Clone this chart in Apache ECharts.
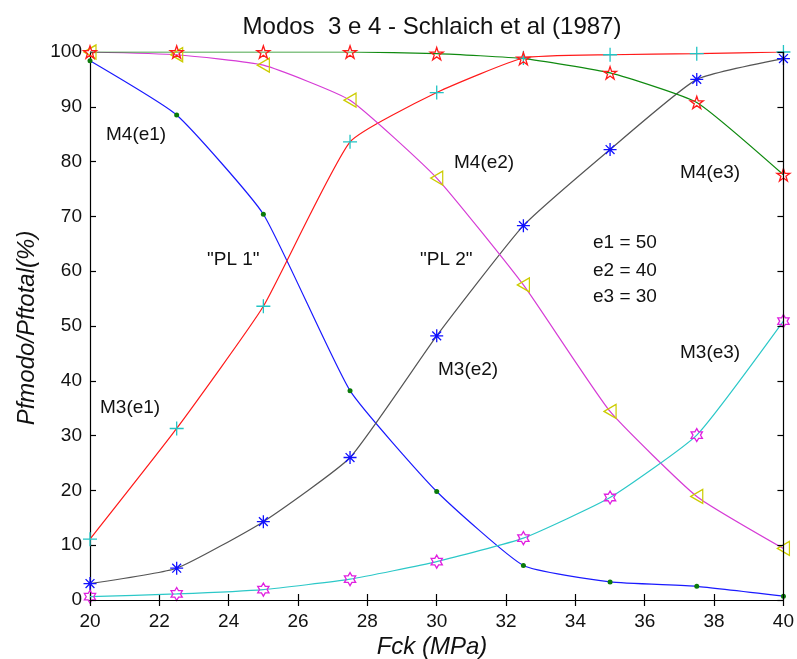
<!DOCTYPE html>
<html>
<head>
<meta charset="utf-8">
<script src="https://cdn.jsdelivr.net/npm/echarts@6/dist/echarts.min.js"></script>
<style>
  html, body { margin: 0; padding: 0; background: #fff; }
  #chart { width: 797px; height: 659px; }
</style>
</head>
<body>
<div id="chart"></div>
<script>
// Concrete strength steps (MPa)
const fck = [20, 22.5, 25, 27.5, 30, 32.5, 35, 37.5, 40];

// Share of each failure mode in the total failure probability (%)
const m4e1 = [98.4, 88.5, 70.4, 38.2, 19.8, 6.3, 3.3, 2.5, 0.7];
const m3e1 = [11.1, 31.3, 53.6, 83.6, 92.6, 98.9, 99.5, 99.7, 100];
const m3e2 = [3.0, 5.8, 14.3, 26.0, 48.2, 68.3, 82.2, 95.0, 98.8];
const m4e2 = [100, 99.5, 97.6, 91.2, 77.0, 57.5, 34.4, 18.9, 9.4];
const m3e3 = [0.6, 1.1, 1.9, 3.8, 7.0, 11.3, 18.7, 30.1, 50.9];
const m4e3 = [100, 100, 100, 100, 99.7, 98.8, 96.2, 90.8, 77.6];

const xTicks = [20, 22, 24, 26, 28, 30, 32, 34, 36, 38, 40];
const yTicks = [0, 10, 20, 30, 40, 50, 60, 70, 80, 90, 100];

const FONT = "'Liberation Sans', Arial, Helvetica, sans-serif";

// Marker shapes
const SYM_PLUS = 'path://M0,5L10,5M5,0L5,10';
const SYM_STAR = 'path://M0,5L10,5M5,0L5,10M1.6,1.6L8.4,8.4M1.6,8.4L8.4,1.6';
const SYM_TRI_LEFT = 'path://M0,5L10,0L10,10Z';
const SYM_PENTA = 'path://M5,0L6.12,3.45L9.76,3.45L6.82,5.59L7.94,9.05L5,6.91L2.06,9.05L3.18,5.59L0.24,3.45L3.88,3.45Z';
const SYM_HEXA = 'path://M5,0L6.44,2.5L9.33,2.5L7.89,5L9.33,7.5L6.44,7.5L5,10L3.56,7.5L0.67,7.5L2.11,5L0.67,2.5L3.56,2.5Z';

function pairs(ys) { return fck.map((x, i) => [x, ys[i]]); }

function curve(name, ys, lineColor, symbol, size, markColor, filled) {
  return {
    name: name,
    type: 'line',
    data: pairs(ys),
    smooth: 0.15,
    clip: true,
    showSymbol: true,
    symbol: symbol,
    symbolSize: size,
    symbolKeepAspect: true,
    lineStyle: { color: lineColor, width: 1.2 },
    itemStyle: filled
      ? { color: markColor, borderColor: markColor, borderWidth: 0 }
      : { color: 'none', borderColor: markColor, borderWidth: 1.3 },
    emphasis: { disabled: true },
    animation: false
  };
}

const chart = echarts.init(document.getElementById('chart'), null, { renderer: 'canvas' });

const axisLine = { show: true, lineStyle: { color: '#000', width: 1.2 } };
const tickIn = { show: true, inside: true, length: 6, lineStyle: { color: '#000', width: 1.2 } };

const textEl = (txt, x, y, size, extra) => ({
  type: 'text', x: x, y: y, z: 50,
  style: Object.assign({
    text: txt, fill: '#111', font: size + 'px ' + FONT,
    align: 'left', verticalAlign: 'middle'
  }, extra || {})
});

chart.setOption({
  backgroundColor: '#fff',
  animation: false,
  grid: { left: 90, right: 11, top: 52, bottom: 59, containLabel: false },
  xAxis: [
    {
      type: 'value', position: 'bottom', min: 20, max: 40, interval: 2,
      axisLine: axisLine, splitLine: { show: false },
      axisLabel: {
        color: '#111', fontSize: 19, fontFamily: FONT, margin: 12,
        customValues: xTicks
      },
      axisTick: Object.assign({}, tickIn, { customValues: xTicks })
    },
    {
      type: 'value', position: 'top', min: 20, max: 40, interval: 2, z: 10,
      axisLine: axisLine, axisTick: tickIn, splitLine: { show: false },
      axisLabel: { show: false }
    }
  ],
  yAxis: [
    {
      type: 'value', position: 'left', min: 0, max: 100, interval: 10,
      axisLine: axisLine, splitLine: { show: false },
      axisLabel: {
        color: '#111', fontSize: 19, fontFamily: FONT, margin: 8,
        customValues: yTicks
      },
      axisTick: Object.assign({}, tickIn, { customValues: yTicks })
    },
    {
      type: 'value', position: 'right', min: 0, max: 100, interval: 10, z: 10,
      axisLine: axisLine, axisTick: tickIn, splitLine: { show: false },
      axisLabel: { show: false }
    }
  ],
  series: [
    curve('M4(e1)', m4e1, '#1a1aff', 'circle', 5, '#0a7a0a', true),
    curve('M3(e1)', m3e1, '#ff1a1a', SYM_PLUS, 14, '#22c4c4', false),
    curve('M3(e2)', m3e2, '#555555', SYM_STAR, 13, '#1010ff', false),
    curve('M4(e2)', m4e2, '#d63cd6', SYM_TRI_LEFT, [12, 14], '#cccc00', false),
    curve('M3(e3)', m3e3, '#2cc8c8', SYM_HEXA, 13, '#e020e0', false),
    curve('M4(e3)', m4e3, '#108a10', SYM_PENTA, 13, '#ff1a1a', false)
  ],
  graphic: [
    textEl('Modos  3 e 4 - Schlaich et al (1987)', 432, 27, 24, { align: 'center' }),
    textEl('Fck (MPa)', 432, 647, 24, { align: 'center', font: 'italic 24px ' + FONT }),
    Object.assign(textEl('Pfmodo/Pftotal(%)', 27, 328, 24,
      { align: 'center', font: 'italic 24px ' + FONT }), { rotation: Math.PI / 2 }),
    textEl('M4(e1)', 106, 135, 19),
    textEl('M3(e1)', 100, 408, 19),
    textEl('"PL 1"', 207, 260, 19),
    textEl('"PL 2"', 420, 260, 19),
    textEl('M3(e2)', 438, 370, 19),
    textEl('M4(e2)', 454, 163, 19),
    textEl('M4(e3)', 680, 173, 19),
    textEl('e1 = 50', 593, 243, 19),
    textEl('e2 = 40', 593, 271, 19),
    textEl('e3 = 30', 593, 297, 19),
    textEl('M3(e3)', 680, 353, 19)
  ]
});
</script>
</body>
</html>
